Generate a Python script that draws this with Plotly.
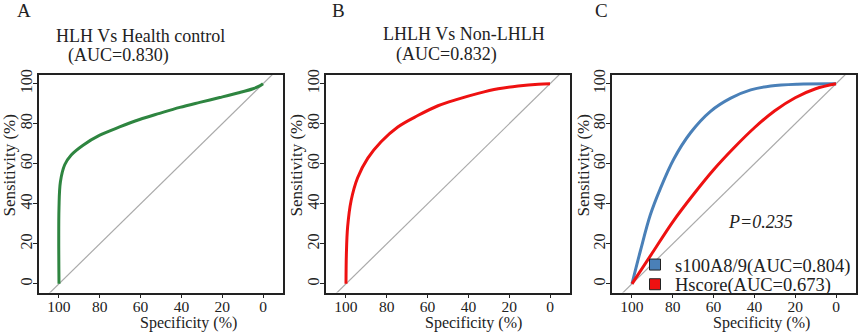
import plotly.graph_objects as go

# ---- data ----
a_spec = [100, 100, 99.3, 97.2, 94, 88.2, 80, 70.3, 60.5, 50.7, 40.8, 31, 21.2, 11.4, 4.9, 1.6, 0]
a_sens = [0, 38, 51, 59.5, 64.4, 69.3, 74.3, 78.4, 82.1, 85.2, 88.2, 90.7, 93.1, 95.6, 97.5, 98.9, 100]

b_spec = [100, 99.8, 99.2, 97.5, 94.3, 89.3, 82.8, 74.6, 64.8, 54.9, 45.1, 35.2, 25.4, 15.6, 5.7, 0]
b_sens = [0, 15.2, 28.4, 41.5, 53, 62.8, 71, 78.4, 84.1, 89, 92.3, 95.2, 97.5, 98.9, 99.8, 100]

c1_spec = [100, 95.9, 91, 86.1, 79.5, 71.3, 61.5, 51.6, 41.8, 32, 18.9, 0]
c1_sens = [0, 16.4, 34.5, 47.6, 62.4, 75.5, 86.2, 92.8, 96.9, 98.9, 99.8, 100]

c2_spec = [100, 90, 80, 70, 60, 50, 40, 30, 20, 10, 0]
c2_sens = [0, 15.5, 31, 44.5, 57, 68, 78, 86.5, 93, 97.5, 100]

diag_spec = [110, -10]
diag_sens = [-10, 110]

tick_vals = [0, 20, 40, 60, 80, 100]
tick_text = ["0", "20", "40", "60", "80", "100"]

titles = ["HLH Vs Health control", "LHLH Vs Non-LHLH", ""]
auc_titles = ["(AUC=0.830)", "(AUC=0.832)", ""]
letters = ["A", "B", "C"]
x_title = "Specificity (%)"
y_title = "Sensitivity (%)"
legend_names = ["s100A8/9(AUC=0.804)", "Hscore(AUC=0.673)"]
p_text = "P=0.235"

GREEN = "#2e8540"
RED = "#ee1111"
BLUE = "#4a80b8"
GRAY = "#aaaaaa"
FONT = "Liberation Serif"

W, H = 858, 332
frames = [(39, 283), (326, 570), (612, 856)]
top, bottom = 71, 292
letter_x = [24, 338, 601]
xtitle_x = [188, 474, 761]
ytitle_x = [10, 297, 584]

fig = go.Figure()

def ax_name(i, k):
    return k if i == 0 else f"{k}{i+1}"

for i in range(3):
    fig.add_trace(go.Scatter(x=diag_spec, y=diag_sens, mode="lines",
                             line=dict(color=GRAY, width=1.2), xaxis=ax_name(i, "x"), yaxis=ax_name(i, "y"),
                             showlegend=False, hoverinfo="skip"))

fig.add_trace(go.Scatter(x=a_spec, y=a_sens, mode="lines", line=dict(color=GREEN, width=3, shape="spline"),
                         xaxis="x", yaxis="y", showlegend=False))
fig.add_trace(go.Scatter(x=b_spec, y=b_sens, mode="lines", line=dict(color=RED, width=3, shape="spline"),
                         xaxis="x2", yaxis="y2", showlegend=False))
fig.add_trace(go.Scatter(x=c1_spec, y=c1_sens, mode="lines", line=dict(color=BLUE, width=3, shape="spline"),
                         xaxis="x3", yaxis="y3", showlegend=False))
fig.add_trace(go.Scatter(x=c2_spec, y=c2_sens, mode="lines", line=dict(color=RED, width=3, shape="spline"),
                         xaxis="x3", yaxis="y3", showlegend=False))
for name, col, lg in zip(legend_names, [BLUE, RED], ["legend", "legend2"]):
    fig.add_trace(go.Scatter(x=[None], y=[None], mode="markers", name=name, legend=lg,
                             marker=dict(symbol="square", size=11, color=col, line=dict(color="#222", width=1)),
                             xaxis="x3", yaxis="y3", showlegend=True))

leg_common = dict(x=635 / W, xanchor="left", yanchor="middle", bgcolor="rgba(0,0,0,0)",
                  font=dict(family=FONT, size=18.5, color="#222"), itemwidth=30, borderwidth=0)
layout = dict(
    width=W, height=H, margin=dict(l=0, r=0, t=0, b=0),
    paper_bgcolor="white", plot_bgcolor="white",
    font=dict(family=FONT, color="#222", size=15),
    showlegend=True,
    legend=dict(y=1 - 264 / H, **leg_common),
    legend2=dict(y=1 - 284 / H, **leg_common),
)
annotations = []
for i in range(3):
    l, r = frames[i]
    xk = "xaxis" if i == 0 else f"xaxis{i+1}"
    yk = "yaxis" if i == 0 else f"yaxis{i+1}"
    layout[xk] = dict(domain=[l / W, r / W], range=[109.8, -9.8], anchor=ax_name(i, "y"),
                      tickvals=tick_vals, ticktext=tick_text, ticks="outside", ticklen=4,
                      ticklabelstandoff=-5,
                      tickcolor="#222", showline=True, linecolor="#222", linewidth=1.5, mirror=True,
                      showgrid=False, zeroline=False, tickfont=dict(size=15.5))
    layout[yk] = dict(domain=[1 - bottom / H, 1 - top / H], range=[-4.4, 104.4], anchor=ax_name(i, "x"),
                      tickvals=tick_vals, ticktext=tick_text, ticks="outside", ticklen=4,
                      ticklabelstandoff=-5,
                      tickcolor="#222", showline=True, linecolor="#222", linewidth=1.5, mirror=True,
                      showgrid=False, zeroline=False, tickangle=-90, tickfont=dict(size=16))
    annotations.append(dict(text=letters[i], x=letter_x[i] / W, y=1 - 6 / H, xref="paper", yref="paper",
                            showarrow=False, xanchor="center", yanchor="middle", font=dict(size=19)))
    annotations.append(dict(text=x_title, x=xtitle_x[i] / W, y=1 - 323 / H, xref="paper", yref="paper",
                            showarrow=False, xanchor="center", yanchor="middle", font=dict(size=16)))
    annotations.append(dict(text=y_title, x=ytitle_x[i] / W, y=1 - 163 / H, xref="paper", yref="paper",
                            showarrow=False, xanchor="center", yanchor="middle", textangle=-90,
                            font=dict(size=17)))

annotations.append(dict(text=titles[0], x=140 / W, y=1 - 31 / H, xref="paper", yref="paper",
                        showarrow=False, xanchor="center", yanchor="middle", font=dict(size=18)))
annotations.append(dict(text=auc_titles[0], x=118 / W, y=1 - 51 / H, xref="paper", yref="paper",
                        showarrow=False, xanchor="center", yanchor="middle", font=dict(size=18)))
annotations.append(dict(text=titles[1], x=464 / W, y=1 - 29 / H, xref="paper", yref="paper",
                        showarrow=False, xanchor="center", yanchor="middle", font=dict(size=18)))
annotations.append(dict(text=auc_titles[1], x=446 / W, y=1 - 50 / H, xref="paper", yref="paper",
                        showarrow=False, xanchor="center", yanchor="middle", font=dict(size=18)))
annotations.append(dict(text="<i>" + p_text + "</i>", x=37, y=31, xref="x3", yref="y3",
                        showarrow=False, xanchor="center", yanchor="middle", font=dict(size=18)))
layout["annotations"] = annotations
fig.update_layout(**layout)

fig.write_html("out.html", config={"displayModeBar": False},
               post_script="document.body.style.margin='0px';")
